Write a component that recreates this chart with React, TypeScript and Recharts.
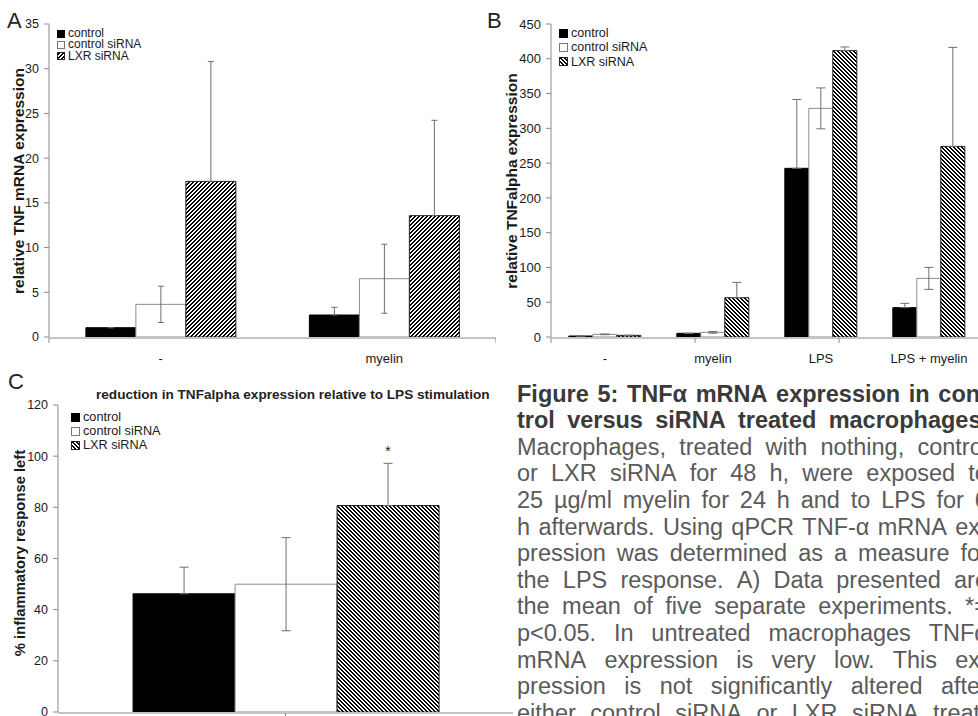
import React from "react";
import { BarChart, Bar, XAxis, YAxis, ErrorBar, LabelList } from "recharts";

// series names (shared legend)
const seriesNames = ["control", "control siRNA", "LXR siRNA"];

// panel A: relative TNF mRNA expression
const groupsA = ["-", "myelin"];
const controlA = [1.04, 2.46];
const controlErrA = [0, 0.86];
const ctrlSiA = [3.65, 6.52];
const ctrlSiErrA = [2.03, 3.86];
const lxrA = [17.4, 13.57];
const lxrErrA = [13.4, 10.66];
const yTicksA = [0, 5, 10, 15, 20, 25, 30, 35];

// panel B: relative TNFalpha expression
const groupsB = ["-", "myelin", "LPS", "LPS + myelin"];
const controlB = [1.4, 5.3, 242.5, 42.2];
const controlErrB = [0, 0, 99, 6.2];
const ctrlSiB = [3.8, 6.7, 328.7, 84.3];
const ctrlSiErrB = [0.5, 1.2, 29.4, 15.8];
const lxrB = [2.4, 56.5, 411.7, 274];
const lxrErrB = [0, 22, 5.3, 142.4];
const yTicksB = [0, 50, 100, 150, 200, 250, 300, 350, 400, 450];

// panel C: % inflammatory response left
const groupsC = [""];
const controlC = [46.2];
const controlErrC = [10.4];
const ctrlSiC = [49.95];
const ctrlSiErrC = [18.2];
const lxrC = [80.7];
const lxrErrC = [16.5];
const sigC = ["*"];
const yTicksC = [0, 20, 40, 60, 80, 100, 120];

const captionLines = [
  "Figure 5: TNFα mRNA expression in con-",
  "trol versus siRNA treated macrophages.",
  "Macrophages, treated with nothing, control",
  "or LXR siRNA for 48 h, were exposed to",
  "25 µg/ml myelin for 24 h and to LPS for 6",
  "h afterwards. Using qPCR TNF-α mRNA ex-",
  "pression was determined as a measure for",
  "the LPS response. A) Data presented are",
  "the mean of five separate experiments. *=",
  "p<0.05. In untreated macrophages TNFα",
  "mRNA expression is very low. This ex-",
  "pression is not significantly altered after",
  "either control siRNA or LXR siRNA treat-",
];

const SANS = "'Liberation Sans', Arial, sans-serif";
const NARROW = "'Liberation Sans Narrow', 'Arial Narrow', 'Liberation Sans', sans-serif";
const AXIS = "#8a8a8a";
const ERR = "#6e6e6e";
const TEXT = "#1a1a1a";

function buildRows(groups: string[], c: number[], cE: number[], s: number[], sE: number[], l: number[], lE: number[], sig?: string[]) {
  return groups.map((g, i) => ({
    group: g,
    control: c[i],
    controlErr: [0, cE[i]],
    ctrlSi: s[i],
    ctrlSiErr: [sE[i], sE[i]],
    lxr: l[i],
    lxrErr: [0, lE[i]],
    lxrTop: lE[i],
    sig: sig ? sig[i] : "",
  }));
}

function Patterns() {
  return (
    <svg width={0} height={0} style={{ position: "absolute" }}>
      <defs>
        <pattern id="hatchUp" width={4} height={4} patternUnits="userSpaceOnUse">
          <rect width={4} height={4} fill="#fff" />
          <rect x={2} y={0} width={2} height={1} fill="#000" />
          <rect x={1} y={1} width={2} height={1} fill="#000" />
          <rect x={0} y={2} width={2} height={1} fill="#000" />
          <rect x={3} y={3} width={1} height={1} fill="#000" />
          <rect x={0} y={3} width={1} height={1} fill="#000" />
        </pattern>
        <pattern id="hatchDown" width={4} height={4} patternUnits="userSpaceOnUse">
          <rect width={4} height={4} fill="#fff" />
          <rect x={0} y={0} width={2} height={1} fill="#000" />
          <rect x={1} y={1} width={2} height={1} fill="#000" />
          <rect x={2} y={2} width={2} height={1} fill="#000" />
          <rect x={3} y={3} width={1} height={1} fill="#000" />
          <rect x={0} y={3} width={1} height={1} fill="#000" />
        </pattern>
      </defs>
    </svg>
  );
}

interface PanelProps {
  rows: any[];
  yTicks: number[];
  width: number;
  height: number;
  top: number;
  bottom: number;
  yWidth: number;
  tickFont: number;
  tickFamily: string;
  xFont: number;
  hatch: string;
  capWidth: number;
  withSig?: boolean;
}

function Panel({ rows, yTicks, width, height, top, bottom, yWidth, tickFont, tickFamily, xFont, hatch, capWidth, withSig }: PanelProps) {
  const bounds = rows.map((_, i) => i).concat([rows.length]);
  return (
    <BarChart
      width={width}
      height={height}
      data={rows}
      margin={{ top, right: 0, bottom, left: 0 }}
      barCategoryGap="16.5%"
      barGap={0}
    >
      <XAxis
        xAxisId="grid"
        type="number"
        domain={[0, rows.length]}
        ticks={bounds}
        allowDataOverflow
        height={1}
        interval={0}
        axisLine={{ stroke: AXIS }}
        tickLine={{ stroke: AXIS }}
        tickSize={5}
        tickFormatter={() => ""}
      />
      <XAxis
        xAxisId="cat"
        dataKey="group"
        height={1}
        interval={0}
        axisLine={false}
        tickLine={false}
        tickSize={0}
        tickMargin={17}
        tick={{ fill: TEXT, fontSize: xFont, fontFamily: SANS }}
      />
      <YAxis
        domain={[0, yTicks[yTicks.length - 1]]}
        ticks={yTicks}
        allowDataOverflow
        interval={0}
        width={yWidth}
        axisLine={{ stroke: AXIS }}
        tickLine={{ stroke: AXIS }}
        tickSize={5}
        tickMargin={5}
        tick={{ fill: TEXT, fontSize: tickFont, fontFamily: tickFamily }}
      />
      <Bar xAxisId="cat" dataKey="control" stackId="a" fill="#000" stroke="#000" isAnimationActive={false}>
        <ErrorBar dataKey="controlErr" width={capWidth} stroke={ERR} strokeWidth={1} />
      </Bar>
      <Bar xAxisId="cat" dataKey="ctrlSi" stackId="b" fill="#fff" stroke="#8c8c8c" isAnimationActive={false}>
        <ErrorBar dataKey="ctrlSiErr" width={capWidth} stroke={ERR} strokeWidth={1} />
      </Bar>
      <Bar xAxisId="cat" dataKey="lxr" stackId="c" fill={`url(#${hatch})`} stroke="#222" isAnimationActive={false}>
        <ErrorBar dataKey="lxrErr" width={capWidth} stroke={ERR} strokeWidth={1} />
      </Bar>
      {withSig && (
        <Bar xAxisId="cat" dataKey="lxrTop" stackId="c" fill="none" stroke="none" isAnimationActive={false}>
          <LabelList dataKey="sig" position="top" offset={7} style={{ fill: TEXT, fontSize: 14, fontFamily: SANS }} />
        </Bar>
      )}
    </BarChart>
  );
}

function LegendBox({ left, top, rowH, font, icon, hatch }: { left: number; top: number; rowH: number; font: number; icon: number; hatch: string }) {
  const fills = ["#000", "#fff", `url(#${hatch})`];
  const strokes = ["#000", "#777", "#222"];
  return (
    <div style={{ position: "absolute", left, top, fontFamily: SANS, fontSize: font, lineHeight: `${rowH}px`, color: TEXT }}>
      {seriesNames.map((name, i) => (
        <div key={name} style={{ height: rowH, display: "flex", alignItems: "center", whiteSpace: "nowrap" }}>
          <svg width={icon + 1} height={icon + 1} style={{ marginRight: 3 }}>
            <rect x={0.5} y={0.5} width={icon} height={icon} fill={fills[i]} stroke={strokes[i]} />
          </svg>
          <span style={{ lineHeight: `${rowH}px` }}>{name}</span>
        </div>
      ))}
    </div>
  );
}

function VLabel({ cx, cy, size, text }: { cx: number; cy: number; size: number; text: string }) {
  return (
    <div
      style={{
        position: "absolute",
        left: cx,
        top: cy,
        transform: "translate(-50%, -50%) rotate(-90deg)",
        whiteSpace: "nowrap",
        fontFamily: SANS,
        fontWeight: "bold",
        fontSize: size,
        lineHeight: 1,
        color: TEXT,
      }}
    >
      {text}
    </div>
  );
}

function Letter({ left, top, text }: { left: number; top: number; text: string }) {
  return (
    <div style={{ position: "absolute", left, top, fontFamily: NARROW, fontSize: 22, lineHeight: "22px", color: "#222" }}>
      {text}
    </div>
  );
}

export default function App() {
  const rowsA = buildRows(groupsA, controlA, controlErrA, ctrlSiA, ctrlSiErrA, lxrA, lxrErrA);
  const rowsB = buildRows(groupsB, controlB, controlErrB, ctrlSiB, ctrlSiErrB, lxrB, lxrErrB);
  const rowsC = buildRows(groupsC, controlC, controlErrC, ctrlSiC, ctrlSiErrC, lxrC, lxrErrC, sigC);

  return (
    <div style={{ position: "absolute", left: 0, top: 0, width: 978, height: 716, overflow: "hidden", background: "#fff" }}>
      <Patterns />

      <div style={{ position: "absolute", left: 0, top: 0 }}>
        <Panel rows={rowsA} yTicks={yTicksA} width={496} height={367} top={24} bottom={28} yWidth={49}
          tickFont={12.5} tickFamily={NARROW} xFont={13} hatch="hatchUp" capWidth={3} />
      </div>
      <div style={{ position: "absolute", left: 490, top: 0 }}>
        <Panel rows={rowsB} yTicks={yTicksB} width={493} height={367} top={24} bottom={28} yWidth={61}
          tickFont={13} tickFamily={SANS} xFont={13} hatch="hatchDown" capWidth={4.5} />
      </div>
      <div style={{ position: "absolute", left: 0, top: 381 }}>
        <Panel rows={rowsC} yTicks={yTicksC} width={513} height={341} top={24} bottom={8} yWidth={58}
          tickFont={12.5} tickFamily={SANS} xFont={13} hatch="hatchDown" capWidth={4.5} withSig />
      </div>

      <LegendBox left={57} top={28} rowH={11.4} font={12} icon={7} hatch="hatchUp" />
      <LegendBox left={559} top={26} rowH={14.3} font={12.5} icon={8} hatch="hatchDown" />
      <LegendBox left={71} top={410} rowH={14} font={12.7} icon={8} hatch="hatchDown" />

      <VLabel cx={19} cy={181} size={15.5} text="relative TNF mRNA expression" />
      <VLabel cx={511.5} cy={181} size={15.5} text="relative TNFalpha expression" />
      <VLabel cx={20} cy={553} size={14.8} text="% inflammatory response left" />

      <Letter left={7} top={10} text="A" />
      <Letter left={487} top={10} text="B" />
      <Letter left={8} top={371} text="C" />

      <div style={{ position: "absolute", left: 96, top: 388, fontFamily: SANS, fontWeight: "bold", fontSize: 13.6, lineHeight: "13.5px", color: "#222", whiteSpace: "nowrap" }}>
        reduction in TNFalpha expression relative to LPS stimulation
      </div>

      <div style={{ position: "absolute", left: 517, top: 380.7, width: 471, fontFamily: SANS, fontSize: 23.5, lineHeight: "26.6px" }}>
        {captionLines.map((line, i) => (
          <div
            key={i}
            style={{
              display: "flex",
              justifyContent: "space-between",
              whiteSpace: "nowrap",
              fontWeight: i < 2 ? "bold" : "normal",
              color: i < 2 ? "#3a3a3a" : "#5a5a5a",
            }}
          >
            {line.split(" ").map((w, j) => (
              <span key={j}>{w}</span>
            ))}
          </div>
        ))}
      </div>
    </div>
  );
}
